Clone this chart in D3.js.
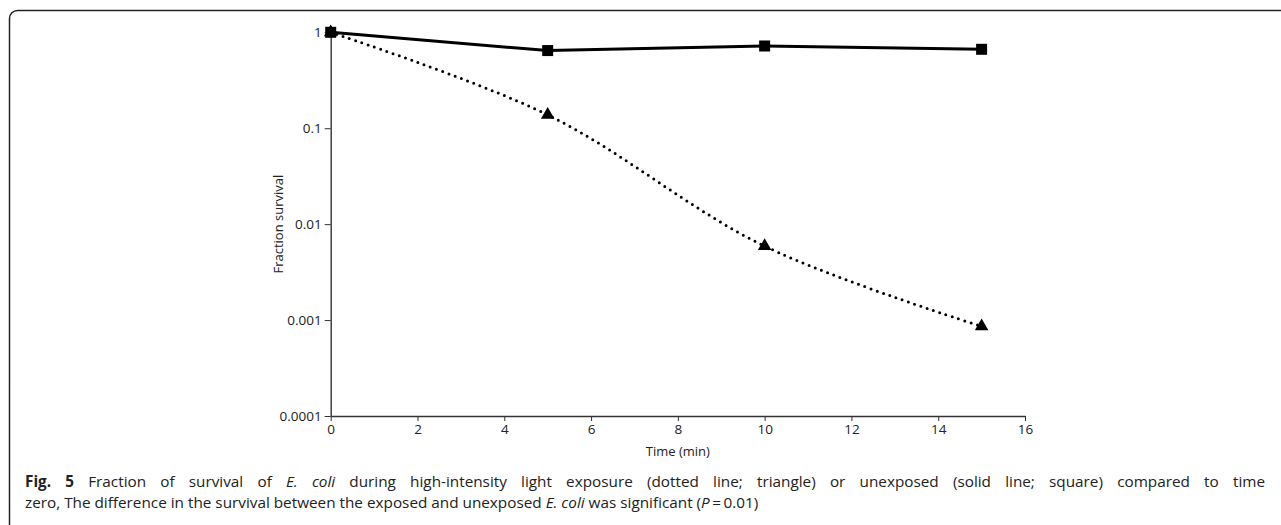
<!DOCTYPE html>
<html>
<head>
<meta charset="utf-8">
<script src="https://cdn.jsdelivr.net/npm/d3@7"></script>
<style>
  body { margin: 0; background: #fff; }
  svg { display: block; }
</style>
</head>
<body>
<svg id="chart" width="1281" height="525"></svg>
<script>
// values
const times = [0, 5, 10, 15];
const unexposed = [1, 0.645, 0.72, 0.665];
const exposed = [1, 0.138, 0.0059, 0.00086];
const xTicks = [0, 2, 4, 6, 8, 10, 12, 14, 16];
const yTicks = [1, 0.1, 0.01, 0.001, 0.0001];
const yTickLabels = ["1", "0.1", "0.01", "0.001", "0.0001"];

const svg = d3.select("#chart");
const font = "'Open Sans', 'Noto Sans', sans-serif";

// frame round the figure
svg.append("rect")
  .attr("x", 9.5).attr("y", 10.5)
  .attr("width", 1300).attr("height", 600)
  .attr("rx", 8)
  .attr("fill", "none")
  .attr("stroke", "#222")
  .attr("stroke-width", 1.5);

const x = d3.scaleLinear().domain([0, 16]).range([330.7, 1025]);
const y = d3.scaleLog().domain([0.0001, 1]).range([416, 32.3]);

// x axis
const gx = svg.append("g")
  .attr("transform", `translate(0,${y(0.0001)})`)
  .call(d3.axisBottom(x).tickValues(xTicks).tickSize(5).tickSizeOuter(0).tickFormat(d3.format("d")));
gx.select(".domain").attr("stroke", "#333").attr("stroke-width", 1.4);
gx.selectAll(".tick line").attr("stroke", "#333");
gx.selectAll(".tick text")
  .attr("font-family", font).attr("font-size", 13.5).attr("fill", "#222")
  .attr("y", 8);

// y axis
const gy = svg.append("g")
  .attr("transform", `translate(${x(0)},0)`)
  .call(d3.axisLeft(y).tickValues(yTicks).tickSize(6).tickSizeOuter(0)
    .tickFormat((d, i) => yTickLabels[i]));
gy.select(".domain").attr("stroke", "#333").attr("stroke-width", 1.4);
gy.selectAll(".tick line").attr("stroke", "#333");
gy.selectAll(".tick text")
  .attr("font-family", font).attr("font-size", 13.5).attr("fill", "#222")
  .attr("x", -9);

// axis titles
svg.append("text")
  .attr("x", (x(0) + x(16)) / 2).attr("y", 456)
  .attr("text-anchor", "middle")
  .attr("font-family", font).attr("font-size", 13).attr("fill", "#222")
  .text("Time (min)");

svg.append("text")
  .attr("transform", `translate(283,${(y(1) + y(0.0001)) / 2}) rotate(-90)`)
  .attr("text-anchor", "middle")
  .attr("font-family", font).attr("font-size", 13).attr("fill", "#222")
  .text("Fraction survival");

// exposed: dotted smooth line with triangles
const exposedPts = times.map((t, i) => [t, exposed[i]]);
svg.append("path")
  .datum(exposedPts)
  .attr("fill", "none")
  .attr("stroke", "#000")
  .attr("stroke-width", 3)
  .attr("stroke-linecap", "round")
  .attr("stroke-dasharray", "0 6.6")
  .attr("d", d3.line().x(d => x(d[0])).y(d => y(d[1])).curve(d3.curveCatmullRom));

svg.append("g")
  .selectAll("path")
  .data(exposedPts)
  .join("path")
  .attr("transform", d => `translate(${x(d[0])},${y(d[1])})`)
  .attr("d", d3.symbol(d3.symbolTriangle, 80))
  .attr("fill", "#000");

// unexposed: solid line with squares
const unexposedPts = times.map((t, i) => [t, unexposed[i]]);
svg.append("path")
  .datum(unexposedPts)
  .attr("fill", "none")
  .attr("stroke", "#000")
  .attr("stroke-width", 3)
  .attr("d", d3.line().x(d => x(d[0])).y(d => y(d[1])));

svg.append("g")
  .selectAll("rect")
  .data(unexposedPts)
  .join("rect")
  .attr("x", d => x(d[0]) - 5.5)
  .attr("y", d => y(d[1]) - 5.5)
  .attr("width", 11).attr("height", 11)
  .attr("fill", "#000");

// caption (first line justified with word spacing)
const cap1 = svg.append("text")
  .attr("x", 25).attr("y", 487)
  .attr("font-family", font).attr("font-size", 15.3).attr("fill", "#222");
cap1.append("tspan").attr("font-weight", "bold").text("Fig. 5");
cap1.append("tspan").text(" Fraction of survival of ");
cap1.append("tspan").attr("font-style", "italic").text("E. coli");
cap1.append("tspan").text(" during high-intensity light exposure (dotted line; triangle) or unexposed (solid line; square) compared to time");

const natural = cap1.node().getComputedTextLength();
const spaces = cap1.text().split(" ").length - 1;
cap1.attr("word-spacing", Math.max(0, (1240 - natural) / spaces));

const cap2 = svg.append("text")
  .attr("x", 25).attr("y", 508)
  .attr("font-family", font).attr("font-size", 15.3).attr("fill", "#222");
cap2.append("tspan").text("zero, The difference in the survival between the exposed and unexposed ");
cap2.append("tspan").attr("font-style", "italic").text("E. coli");
cap2.append("tspan").text(" was significant (");
cap2.append("tspan").attr("font-style", "italic").text("P");
cap2.append("tspan").text("\u2009=\u20090.01)");
</script>
</body>
</html>
